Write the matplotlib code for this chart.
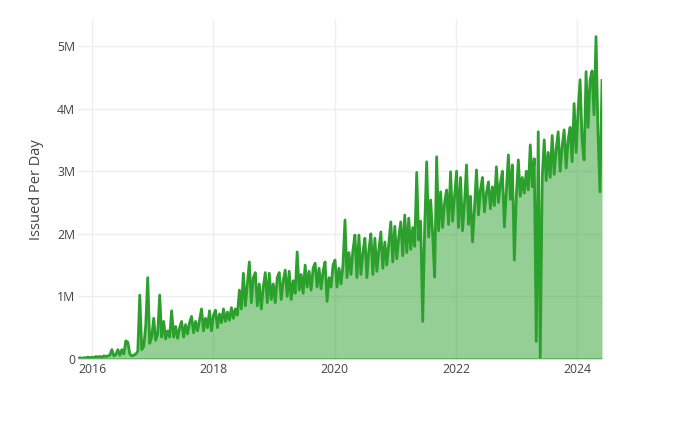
import numpy as np
import pandas as pd
import matplotlib
matplotlib.use("Agg")
import matplotlib.pyplot as plt
from matplotlib.ticker import FuncFormatter
import matplotlib.dates as mdates

# certificates issued per day (millions), one reading every 12 days
start_date = "2015-10-08"
step = "12D"
issued_m = [
    0.01, 0.02, 0.01, 0.02, 0.02, 0.03, 0.02, 0.03, 0.02, 0.04, 0.03, 0.04, 0.03, 0.05, 0.04, 0.05,
    0.06, 0.15, 0.05, 0.07, 0.15, 0.06, 0.15, 0.08, 0.29, 0.27, 0.08, 0.05, 0.06, 0.08, 0.12, 1.02, 0.15, 0.20, 0.54, 1.30,
    0.25, 0.35, 0.65, 0.30, 0.40, 1.02, 0.35, 0.60, 0.32, 0.45, 0.35, 0.77, 0.35, 0.52, 0.33, 0.50, 0.60, 0.35, 0.55, 0.40,
    0.58, 0.68, 0.42, 0.60, 0.45, 0.62, 0.80, 0.45, 0.65, 0.50, 0.77, 0.45, 0.70, 0.78, 0.50, 0.72, 0.58, 0.80, 0.60, 0.75,
    0.62, 0.82, 0.65, 0.80, 0.70, 1.10, 0.80, 1.37, 0.85, 1.20, 1.55, 0.90, 1.30, 1.38, 0.85, 1.20, 0.80, 1.15, 1.38, 0.90,
    1.37, 0.95, 1.20, 0.90, 1.30, 1.38, 0.95, 1.25, 1.42, 1.00, 1.40, 0.95, 1.25, 1.05, 1.71, 1.10, 1.35, 1.05, 1.50, 1.15,
    1.40, 1.10, 1.45, 1.53, 1.15, 1.45, 1.12, 1.40, 1.55, 0.92, 1.30, 1.15, 1.50, 1.58, 1.15, 1.45, 1.20, 1.50, 2.22, 1.30,
    1.70, 1.35, 1.74, 1.98, 1.30, 1.98, 1.35, 1.70, 1.93, 1.30, 1.75, 2.00, 1.35, 1.93, 1.40, 1.75, 2.03, 1.45, 1.87, 1.50,
    1.85, 2.19, 1.55, 2.12, 1.60, 1.95, 2.19, 1.65, 2.30, 1.70, 2.25, 1.75, 2.10, 1.80, 2.98, 1.90, 2.20, 0.60, 2.10, 3.15,
    1.95, 2.54, 2.00, 1.31, 3.23, 2.05, 2.67, 2.10, 2.50, 2.70, 2.15, 2.99, 2.20, 2.60, 3.00, 2.10, 2.90, 2.05, 2.50, 3.10,
    2.15, 2.60, 1.87, 2.40, 3.02, 2.30, 2.70, 2.90, 2.35, 2.65, 2.83, 2.40, 2.75, 2.45, 3.07, 2.50, 2.80, 3.00, 2.11, 2.70,
    3.26, 2.55, 3.10, 1.58, 2.60, 3.18, 2.60, 2.90, 2.65, 3.00, 2.70, 3.42, 2.75, 3.20, 0.28, 3.63, 0.00, 2.90, 3.50, 2.85,
    3.30, 2.90, 3.57, 2.95, 3.35, 3.63, 3.00, 3.40, 3.66, 3.05, 3.50, 3.70, 3.15, 4.08, 3.30, 3.97, 4.46, 3.50, 3.18, 4.59,
    3.70, 4.45, 4.60, 3.90, 5.15, 3.60, 2.67, 4.45,
]
tick_years = [2016, 2018, 2020, 2022, 2024]
y_ticks_m = [0, 1, 2, 3, 4, 5]

dates = pd.date_range(start_date, periods=len(issued_m), freq=step)
issued = np.array(issued_m) * 1e6

green = "#2ca02c"
text_col = "#444444"
plt.rcParams["font.family"] = ["Open Sans", "DejaVu Sans"]

fig = plt.figure(figsize=(6.8, 4.37), dpi=100)
ax = fig.add_axes([78 / 680, 1 - 359 / 437, 524 / 680, 339 / 437])

ax.fill_between(dates, 0, issued, color=green, alpha=0.5, linewidth=0)
ax.plot(dates, issued, color=green, linewidth=2.0)
ax.axhline(0, color="#5fae5f", linewidth=1.2)

ax.set_xlim(dates[0], dates[-1])
ax.set_ylim(0, 5.415e6)

ax.set_xticks([pd.Timestamp(f"{y}-01-01") for y in tick_years])
ax.xaxis.set_major_formatter(mdates.DateFormatter("%Y"))
ax.set_yticks([v * 1e6 for v in y_ticks_m])
ax.yaxis.set_major_formatter(FuncFormatter(lambda v, p: "0" if v == 0 else f"{v / 1e6:.0f}M"))

ax.grid(True, color="#eeeeee", linewidth=1)
ax.set_axisbelow(True)
for s in ax.spines.values():
    s.set_visible(False)
ax.tick_params(length=0, labelsize=8.8, colors=text_col)
ax.tick_params(axis="y", pad=2)
ax.tick_params(axis="x", pad=3)

ax.set_ylabel("Issued Per Day", fontsize=10.5, color=text_col)
ax.yaxis.set_label_coords(-0.065, 0.5)

fig.savefig("out.png", dpi=100)
